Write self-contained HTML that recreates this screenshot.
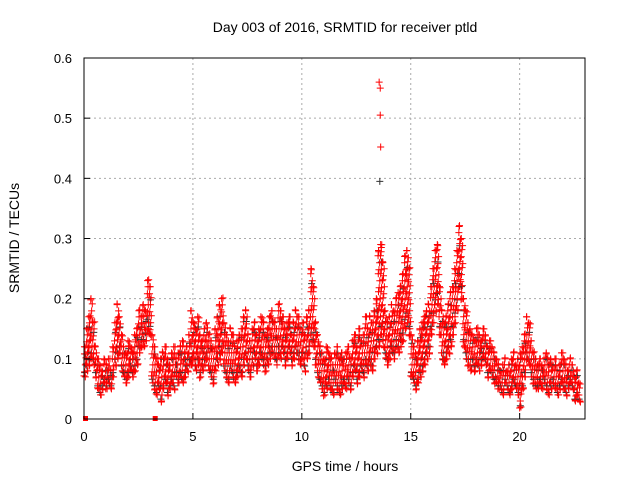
<!DOCTYPE html>
<html><head><meta charset="utf-8"><style>
body{margin:0;background:#fff}
svg{display:block;font-family:"Liberation Sans",sans-serif}
</style></head><body>
<svg id="chart" width="640" height="480">
<text x="345" y="32" font-size="14" text-anchor="middle">Day 003 of 2016, SRMTID for receiver ptld</text>
<text x="345" y="471" font-size="14" text-anchor="middle">GPS time / hours</text>
<text transform="translate(19,238) rotate(-90)" font-size="14" text-anchor="middle">SRMTID / TECUs</text>
<g id="grid"></g><g id="marks"></g><g id="axes"></g>
</svg>
<script>
const xTicks=[0,5,10,15,20];
const yTicks=[0,0.1,0.2,0.3,0.4,0.5,0.6];
const yTickLabels=["0","0.1","0.2","0.3","0.4","0.5","0.6"];
const upper=[.12,.15,.17,.20,.16,.12,.10,.09,.08,.10,.09,.10,.08,.12,.16,.19,.17,.14,.12,.11,.13,.12,.11,.14,.15,.18,.17,.19,.18,.23,.22,.14,.12,.10,.09,.10,.11,.12,.10,.09,.11,.12,.10,.11,.12,.13,.11,.12,.14,.18,.16,.15,.17,.14,.13,.15,.16,.14,.13,.12,.15,.17,.19,.20,.16,.14,.13,.15,.14,.12,.13,.14,.15,.17,.18,.14,.13,.15,.16,.14,.15,.17,.16,.14,.15,.17,.18,.16,.15,.19,.18,.17,.15,.16,.17,.14,.16,.18,.17,.15,.16,.14,.17,.18,.25,.22,.16,.14,.12,.11,.10,.12,.11,.10,.09,.11,.12,.10,.11,.10,.11,.12,.10,.13,.14,.12,.15,.13,.14,.17,.15,.17,.16,.18,.20,.28,.29,.26,.18,.16,.17,.19,.18,.20,.21,.22,.24,.27,.28,.25,.14,.12,.11,.13,.15,.16,.17,.18,.19,.22,.25,.28,.29,.22,.18,.16,.17,.19,.21,.22,.25,.28,.32,.30,.20,.18,.16,.15,.14,.13,.15,.14,.13,.15,.14,.12,.13,.12,.11,.10,.09,.08,.09,.10,.08,.09,.10,.11,.09,.10,.11,.12,.14,.17,.16,.13,.11,.10,.09,.10,.09,.10,.11,.09,.10,.09,.10,.08,.09,.11,.10,.09,.08,.10,.09,.07,.08,.06];
const lower=[.07,.08,.09,.10,.09,.07,.05,.04,.05,.06,.05,.06,.05,.07,.09,.10,.11,.08,.07,.06,.07,.08,.07,.08,.09,.11,.12,.12,.13,.15,.14,.06,.05,.04,.05,.03,.05,.06,.04,.05,.06,.05,.07,.06,.07,.06,.07,.08,.09,.09,.10,.08,.09,.07,.08,.09,.10,.08,.07,.06,.08,.09,.10,.11,.08,.07,.06,.08,.07,.06,.07,.08,.07,.09,.10,.08,.07,.09,.10,.08,.09,.10,.09,.08,.09,.10,.11,.10,.09,.11,.10,.11,.09,.10,.11,.09,.10,.11,.10,.09,.10,.08,.10,.11,.13,.12,.09,.07,.06,.05,.04,.05,.06,.05,.04,.06,.05,.04,.05,.06,.05,.06,.05,.07,.08,.06,.07,.08,.07,.09,.08,.09,.08,.10,.11,.12,.14,.12,.10,.09,.10,.11,.10,.12,.11,.12,.13,.15,.16,.14,.07,.06,.05,.06,.07,.08,.09,.10,.11,.14,.16,.18,.19,.14,.10,.09,.10,.11,.12,.14,.16,.18,.22,.20,.12,.10,.09,.08,.09,.08,.09,.08,.09,.10,.09,.07,.08,.07,.06,.06,.05,.05,.04,.06,.05,.04,.05,.06,.05,.04,.02,.05,.07,.10,.09,.07,.06,.05,.05,.06,.05,.06,.05,.04,.05,.06,.05,.04,.05,.06,.05,.04,.05,.06,.05,.03,.04,.03];
const spikeTimes=[13.55,13.6,13.6,13.62,13.58,13.65];
const spikeValues=[0.56,0.55,0.505,0.452,0.395,0.285];
const zeroTimes=[0,3.2];
const zeroValues=[0,0];
const X0=84,X1=585,Y0=419,Y1=58,XMAX=23,YMAX=0.6;
const sx=t=>X0+t/XMAX*(X1-X0), sy=v=>Y0-v/YMAX*(Y0-Y1);
const NS="http://www.w3.org/2000/svg";
function mk(tag,attrs,parent){const e=document.createElementNS(NS,tag);for(const k in attrs)e.setAttribute(k,attrs[k]);parent.appendChild(e);return e;}
const grid=document.getElementById('grid'),marks=document.getElementById('marks'),axes=document.getElementById('axes');
xTicks.forEach(t=>{const x=sx(t);
 if(t>0){const g=mk('line',{x1:x,x2:x,y1:Y1,y2:Y0,stroke:'#aaa','stroke-dasharray':'2,3'},grid);
 
 }
 const l=mk('text',{x:x,y:Y0+22,'font-size':13,'text-anchor':'middle'},axes);l.textContent=t;
 
 
 mk('line',{x1:x,x2:x,y1:Y0,y2:Y0-6,stroke:'#000'},axes);});
yTicks.forEach((v,i)=>{const y=sy(v);
 if(v>0){const g=mk('line',{x1:X0,x2:X1,y1:y,y2:y,stroke:'#aaa','stroke-dasharray':'2,3'},grid);
 
 }
 const l=mk('text',{x:X0-12,y:y+5,'font-size':13,'text-anchor':'end'},axes);l.textContent=yTickLabels[i];
 
 
 mk('line',{x1:X0,x2:X0+6,y1:y,y2:y,stroke:'#000'},axes);});
const fr=mk('rect',{x:X0,y:Y1,width:X1-X0,height:Y0-Y1,fill:'none',stroke:'#000'},axes);


function plus(x,y,c){const p=mk('path',{d:`M${x-3.5} ${y}h7M${x} ${y-3.5}v7`,stroke:c,'stroke-width':1,fill:'none'},marks);
 
 }
upper.forEach((u,i)=>{const t=i*0.1,lo=lower[i];
 const yt=sy(u),yb=sy(lo);
 if(i%2==0){plus(sx(t+0.05),sy(u*0.9),'#333');}
 plus(sx(t+0.03),sy(lo*1.1),'#333');
 let k=0;
 for(let y=yb;y>=yt;y-=6){const off=((k*3+i*7)%10)*0.01;plus(sx(t+off),y+((k*5+i)%3)-1,'#f00');k++;}
 plus(sx(t+0.02),yt,'#f00');plus(sx(t+0.06),yb,'#f00');});
spikeTimes.forEach((t,i)=>plus(sx(t),sy(spikeValues[i]),i==4?'#333':'#f00'));
zeroTimes.forEach((t,i)=>{const r=mk('rect',{x:sx(t)-1,y:sy(zeroValues[i])-3,width:5,height:5,fill:'#f00'},marks);
 
 });
</script>
</body></html>
